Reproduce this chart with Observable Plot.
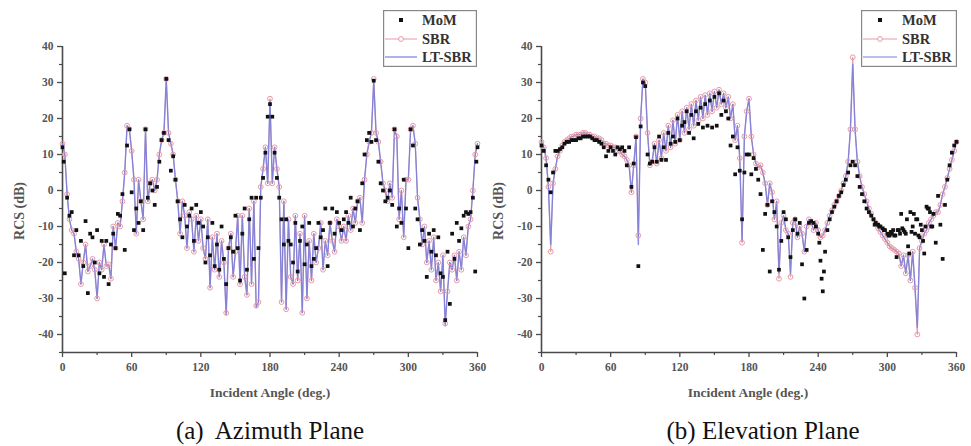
<!DOCTYPE html>
<html><head><meta charset="utf-8">
<script src="https://cdn.jsdelivr.net/npm/d3@7"></script>
<script src="https://cdn.jsdelivr.net/npm/@observablehq/plot@0.6"></script>
<style>
body{margin:0;background:#fff;}
#root{position:relative;width:971px;height:446px;overflow:hidden;font-family:"Liberation Serif","Times New Roman",serif;background:#fff;}
.panel{position:absolute;top:0;}
.ytitle{position:absolute;transform:translate(-50%,-50%) rotate(-90deg);white-space:nowrap;font-weight:bold;font-size:14px;color:#555;}
.xtitle{position:absolute;transform:translateX(-50%);white-space:nowrap;font-weight:bold;font-size:13.5px;color:#555;line-height:16px;}
.caption{position:absolute;transform:translateX(-50%);white-space:pre;font-size:25px;color:#111;line-height:28px;}
.legend{position:absolute;}
</style>
</head><body>
<div id="root"></div>
<script>
// angles sampled every 2 degrees, 0..360
const STEP = 2;
const xTicks = [0, 60, 120, 180, 240, 300, 360];
const xMinor = [30, 90, 150, 210, 270, 330];
const yTicks = [-40, -30, -20, -10, 0, 10, 20, 30, 40];
const yMinor = [-45, -35, -25, -15, -5, 5, 15, 25, 35];
const seriesNames = ["MoM", "SBR", "LT-SBR"];
const captions = ["(a)  Azimuth Plane", "(b) Elevation Plane"];
const xTitle = "Incident Angle (deg.)";
const yTitle = "RCS (dB)";
const SERIF = "'Liberation Serif', 'Times New Roman', serif";

// (a) Azimuth plane
const sbrAz = [
 13, 10, -1, -8, -11, -12, -17, -19, -26, -20,
 -15, -22.5, -21, -19, -22, -30, -20, -22, -15, -21,
 -20.5, -24.5, -10, -16, -9, -10, -3, 5, 18, 17,
 11, 3, -12, 3, -3, -8, 17, -3, 2, 3,
 0, 3, 10, 14, 16, 31, 16, 13, 10, 3,
 -3, -12, -3, -7, -16, -6, -8, -17, -7, -14,
 -8, -16, -19, -8, -27, -13, -22, -12, -24, -14,
 -20, -34, -16, -12, -24, -17, -7, -26, -7, -24,
 -29, -5, -26, -3, -32, -31, 1, 6, 12, 2,
 25.5, 2, 12, 6, 1, -31, -3, -33, -8, -24,
 -26, -7, -25, -12, -34, -7, -30, -14, -25, -12,
 -20, -16, -9, -22, -14, -18, -9, -14, -17, -8,
 -10, -14, -10, -14, -7, -11, -5, -9, -3, -2,
 -9, 3, 10, 13.5, 16, 31, 16, 13.5, 8, 2,
 0, -3, 2, -2, 17, 15, -8, 0, -13, 3,
 3, 17, 18, 13, -2, -8, -15, -10, -20, -14,
 -22, -13, -25, -20, -28, -18, -37, -28, -20, -22,
 -18, -25, -17, -22, -13, -18, -10, -8, 0, 10,
 13
];
const ltAz = [
 13, 10, -1, -8, -11, -12, -17, -19, -26, -20,
 -15, -22.5, -21, -19, -22, -30, -20, -22, -15, -21,
 -20.5, -24.5, -10, -16, -9, -10, -3, 5, 18, 17,
 11, 3, -12, 3, -3, -8, 17, -3, 2, 3,
 0, 3, 10, 14, 16, 31, 16, 13, 10, 3,
 -3, -12, -3, -7, -16, -6, -8, -17, -7, -14,
 -8, -16, -19, -8, -27, -13, -22, -12, -24, -14,
 -20, -34.5, -16, -12, -24, -17, -7, -26, -7, -24,
 -29, -5, -26, -3, -32.5, -31, 1, 6, 12, 2,
 25, 2, 12, 6, 1, -31, -3, -33, -8, -24,
 -26, -7, -25, -12, -34, -7, -30, -14, -25, -12,
 -20, -16, -9, -22, -14, -18, -9, -14, -17, -8,
 -10, -14, -10, -14, -7, -11, -5, -9, -3, -2,
 -9, 3, 10, 13.5, 16, 30.5, 16, 13.5, 8, 2,
 0, -3, 2, -2, 17, 15, -8, 0, -13, 3,
 3, 17, 18, 13, -2, -8, -15, -10, -20, -14,
 -22, -13, -25, -20, -28, -18, -37.5, -28, -20, -22,
 -18, -25, -17, -22, -13, -18, -10, -8, 0, 10,
 13
];
const momAz = [
 12, -23, -2, -7, -6, -18, -11, -18, -14, -21,
 -8.5, -28.5, -12, -13, -20, -11, -23, -14, -24, -14,
 -26, -15, -12, -16, -6.5, -7, -1, -16.5, 12.5, 17,
 -0.5, -11, -5, -9, -3, -11, 17, -2, 2, 0,
 -4, 1, 8, 14, 16, 31, 14, 5.5, 9.5, 3,
 -3, -8, -13, -4, -10, -7, -5, -14, -4, -9,
 -6, -10, -20, -13, -18, -9, -21, -15, -22, -10,
 -19, -26, -16, -13, -17, -7, -16, -25, -12, -5,
 -22, -8, -2, -19, -2, -16, -2, 3.5, 10.5, 20.5,
 24, 20.5, 10.5, 3.5, -2, -8, -15, -8, -14, -15,
 -20, -9, -22.5, -14, -10, -20.5, -15, -9, -21, -19,
 -16, -9, -13, -11, -5, -21, -9, -5, -12, -6,
 -9, -11, -8, -6, -9, -2, -10, -5, -3, -11,
 2, 10, 14, 16, 13.5, 30.5, 14, 8, 2, 0,
 -3, -2, 0, -4, 17, -10, -5, -9, 3, -5,
 -16, 17, 12.5, -5, -8, -15, -11, -14, -24, -12,
 -17, -11, -18, -13, -23, -24, -36, -17, -31.5, -12,
 -19, -9, -14, -10.5, -7, -6, -6.5, -6, -2, -22.5,
 12
];
const momAzExtra = [[1, 8], [359, 8]];

// (b) Elevation plane
const sbrEl = [
 13.5, 12, 9, 1, -17, 2, 6, 9.5, 11, 12.5,
 13.5, 14, 14.5, 15, 15, 15.5, 15.5, 15.5, 16, 16,
 15.5, 15.5, 15, 15, 14.5, 14.5, 14, 13, 13, 12.5,
 12.5, 12, 12, 11, 11, 10, 9.5, 8.5, 7, -0.5,
 7, 15, -12.5, 20, 31, 30, 16, 7, 8, 13,
 7.5, 14, 9, 16, 11, 18, 12, 19.5, 13, 21,
 14, 22, 16, 23, 17, 24, 18, 25, 19.5, 26,
 20, 26.5, 21, 27, 22, 27.5, 23, 28, 24, 27,
 23, 26, 20, 24, 14, 18, 9, -14.5, 15, 22,
 25.5, 15, 10, 7.5, 6.5, 7, 5, 2, -4, 2,
 -0.5, -8, -3, -24.5, -9, -7, -11, -12, -24, -9,
 -8, -13, -10, -12, -17, -10, -8, -9, -11, -9,
 -11, -13, -12.5, -11, -9, -7, -5.5, -4, -3, -1.5,
 0, 2, 4, 8, 17, 37, 17, 8, 4, 1,
 -1, -3, -5, -6.5, -8, -9, -10.5, -11.5, -12.5, -13.5,
 -14.5, -15.5, -16, -16.5, -17, -17.5, -21, -18, -23, -18,
 -25, -17, -27, -40, -16, -14, -12, -11, -9, -8,
 -7, -6, -6, -4, -1, 1, 3.5, 6, 8.5, 11,
 13.5
];
const ltEl = [
 13.5, 12, 9, 1, -15, 2, 6, 9.5, 11, 12.5,
 13.5, 14, 14.5, 15, 15, 15.5, 15.5, 15.5, 16, 16,
 15.5, 15.5, 15, 15, 14.5, 14.5, 14, 13, 13, 12.5,
 12.5, 12, 12, 11, 11, 10, 9.5, 8.5, 7, -0.5,
 7, 15, -15, 20, 31, 30, 16, 7, 8, 13,
 7.5, 14, 9, 16, 11, 18, 12, 19.5, 13, 21,
 14, 22, 16, 23, 17, 24, 18, 25, 19.5, 26,
 20, 26.5, 21, 27, 22, 27.5, 23, 28, 24, 27,
 23, 26, 20, 24, 14, 18, 9, -14, 15, 22,
 25.5, 15, 10, 7.5, 6.5, 7, 5, 2, -4, 2,
 -0.5, -8, -3, -23, -9, -7, -11, -12, -23, -9,
 -8, -13, -10, -12, -17, -10, -8, -9, -11, -9,
 -11, -13, -12.5, -11, -9, -7, -5.5, -4, -3, -1.5,
 0, 2, 4, 8, 17, 35, 17, 8, 4, 1,
 -1, -3, -5, -6.5, -8, -9, -10.5, -11.5, -12.5, -13.5,
 -14.5, -15.5, -16, -16.5, -17, -17.5, -21, -18, -23, -18,
 -25, -17, -27, -38, -16, -14, -12, -11, -9, -8,
 -7, -6, -6, -4, -1, 1, 3.5, 6, 8.5, 11,
 13.5
];
const momEl = [
 12.5, 11, 7, 3, -0.5, 5, 11, 11, 11.5, 12,
 13, 13.5, 13.5, 14, 14, 14, 14.5, 14.5, 15, 15,
 15, 15, 14.5, 14, 14, 13.5, 13, 12, 9.5, 11,
 12, 11, 10, 12, 11.5, 12, 11, 7, 12, 1,
 7.5, 14.8, -21, 17.8, 30, 29, 10, 7.5, 8, 12,
 8, 15, 8.5, 12, 8.5, 16, 13, 15, 13.5, 20,
 14, 18, 19, 22, 16, 21, 14.5, 22, 18.5, 23,
 17.5, 24, 18, 25, 17.5, 26, 18, 27, 21, 25,
 22, 20, 12.5, 15, 4.5, 12, 5.5, -8, 5, 10,
 10, 4.5, 9, 6, 3, -1, -16.5, -6.5, -4, -22.5,
 -3, -6, -10, -22, -14, -6, -8, -13, -18.5, -11,
 -8, -12, -9, -20.5, -30, -16.5, -9, -8.5, -9, -10,
 -12, -19.5, -28, -17, -11, -8, -6, -4.5, -3, -1.5,
 -0.5, 1.5, 3, 5, 7, 8, 7, 4, 1, -1,
 -3, -5, -6, -7, -8, -9, -9.5, -10, -10.5, -11,
 -12, -12.5, -12, -12.5, -18.5, -11, -6.5, -11, -12, -15.5,
 -6, -10, -12, -8, -13, -11, -17.5, -4.5, -5, -10,
 -6.5, -14.5, -1.5, -9.5, -19, -4, 3, 7, 10.5, 12.5,
 13.5
];
const momElExtra = [
 [241, -14.5], [243, -24.5], [245, -22.5],
 [289, -9.5], [293, -10], [297, -11], [301, -12.5], [303, -11.5], [305, -11],
 [307, -12.5], [309, -11], [311, -12], [313, -10.5], [315, -11.5], [317, -8],
 [319, -17.5], [321, -11.5], [323, -6.5], [325, -8], [327, -12.5], [329, -9.5],
 [331, -14], [333, -10], [335, -5], [337, -6], [339, -10]
];

const PINK = "#e79aa6";
const BLUE = "#7a7edc";
const AXIS = "#4a4a4a";

function toRows(vals) { return vals.map((v, i) => ({angle: i * STEP, rcs: v})); }

function makePanel(sbr, lt, mom, extra, w, ml, mr) {
  const sbrD = toRows(sbr), ltD = toRows(lt);
  const momD = toRows(mom).concat(extra.map(([a, v]) => ({angle: a, rcs: v})));
  return Plot.plot({
    width: w, height: 380,
    marginLeft: ml, marginRight: mr, marginTop: 46, marginBottom: 28,
    x: {domain: [0, 360]},
    y: {domain: [-45, 40]},
    style: {fontFamily: SERIF, fontSize: "11.5px", color: "#555", background: "transparent", overflow: "visible"},
    marks: [
      Plot.axisX({ticks: xTicks, tickSize: 5, tickPadding: 5, tickFormat: d => String(d), label: null, stroke: AXIS, strokeWidth: 1.3, fill: "#555", fontWeight: "bold", fontFamily: SERIF}),
      Plot.axisX({ticks: xMinor, tickSize: 3, text: null, label: null, stroke: AXIS, strokeWidth: 1.2}),
      Plot.axisY({ticks: yTicks, tickSize: 5, tickPadding: 4, tickFormat: d => String(d), label: null, stroke: AXIS, strokeWidth: 1.3, fill: "#555", fontWeight: "bold", fontFamily: SERIF}),
      Plot.axisY({ticks: yMinor, tickSize: 3, text: null, label: null, stroke: AXIS, strokeWidth: 1.2}),
      Plot.ruleX([0], {y1: -45, y2: 40, stroke: AXIS, strokeWidth: 1.6}),
      Plot.ruleY([-45], {x1: 0, x2: 360, stroke: AXIS, strokeWidth: 1.6}),
      Plot.line(sbrD, {x: "angle", y: "rcs", stroke: PINK, strokeWidth: 1}),
      Plot.line(ltD, {x: "angle", y: "rcs", stroke: BLUE, strokeWidth: 1.4, strokeOpacity: 0.9}),
      Plot.dot(sbrD, {x: "angle", y: "rcs", r: 2.4, stroke: PINK, strokeWidth: 1, fill: "none"}),
      Plot.dot(momD, {x: "angle", y: "rcs", symbol: "square", r: 2.1, fill: "#111", stroke: "none"})
    ]
  });
}

function legendSVG(w, lineEnd, textX) {
  const mid = (2 + lineEnd) / 2;
  const font = `font-family="Liberation Serif, Times New Roman, serif" font-weight="bold" font-size="14.5" fill="#333"`;
  return `<svg width="${w}" height="57" xmlns="http://www.w3.org/2000/svg" style="display:block">
  <rect x="0.6" y="0.6" width="${w - 1.2}" height="55.8" fill="#fff" stroke="#888" stroke-width="1.2"/>
  <rect x="${mid - 2}" y="${10 - 2}" width="4" height="4" fill="#111"/>
  <text x="${textX}" y="15" ${font}>${seriesNames[0]}</text>
  <line x1="2" x2="${lineEnd}" y1="29" y2="29" stroke="${PINK}" stroke-width="1"/>
  <circle cx="${mid}" cy="29" r="2.4" fill="#fff" stroke="${PINK}" stroke-width="1"/>
  <text x="${textX}" y="34" ${font}>${seriesNames[1]}</text>
  <line x1="2" x2="${lineEnd}" y1="47" y2="47" stroke="${BLUE}" stroke-width="1.2"/>
  <text x="${textX}" y="52" ${font}>${seriesNames[2]}</text>
  </svg>`;
}

const root = document.getElementById("root");

function addDiv(cls, style, text) {
  const d = document.createElement("div");
  d.className = cls;
  Object.assign(d.style, style);
  if (text != null) d.textContent = text;
  root.appendChild(d);
  return d;
}

const pA = addDiv("panel", {left: "0px"});
pA.appendChild(makePanel(sbrAz, ltAz, momAz, momAzExtra, 490, 62, 13));
const pB = addDiv("panel", {left: "490px"});
pB.appendChild(makePanel(sbrEl, ltEl, momEl, momElExtra, 481, 51, 15));

addDiv("ytitle", {left: "20px", top: "211px"}, yTitle);
addDiv("ytitle", {left: "499px", top: "211px"}, yTitle);
addDiv("xtitle", {left: "270px", top: "385px"}, xTitle);
addDiv("xtitle", {left: "748px", top: "385px"}, xTitle);
addDiv("caption", {left: "270px", top: "417px"}, captions[0]);
addDiv("caption", {left: "763px", top: "417px"}, captions[1]);

const lgA = addDiv("legend", {left: "383px", top: "10px"});
lgA.innerHTML = legendSVG(94, 34, 39);
const lgB = addDiv("legend", {left: "861px", top: "10px"});
lgB.innerHTML = legendSVG(96, 36, 41);
</script>
</body></html>
